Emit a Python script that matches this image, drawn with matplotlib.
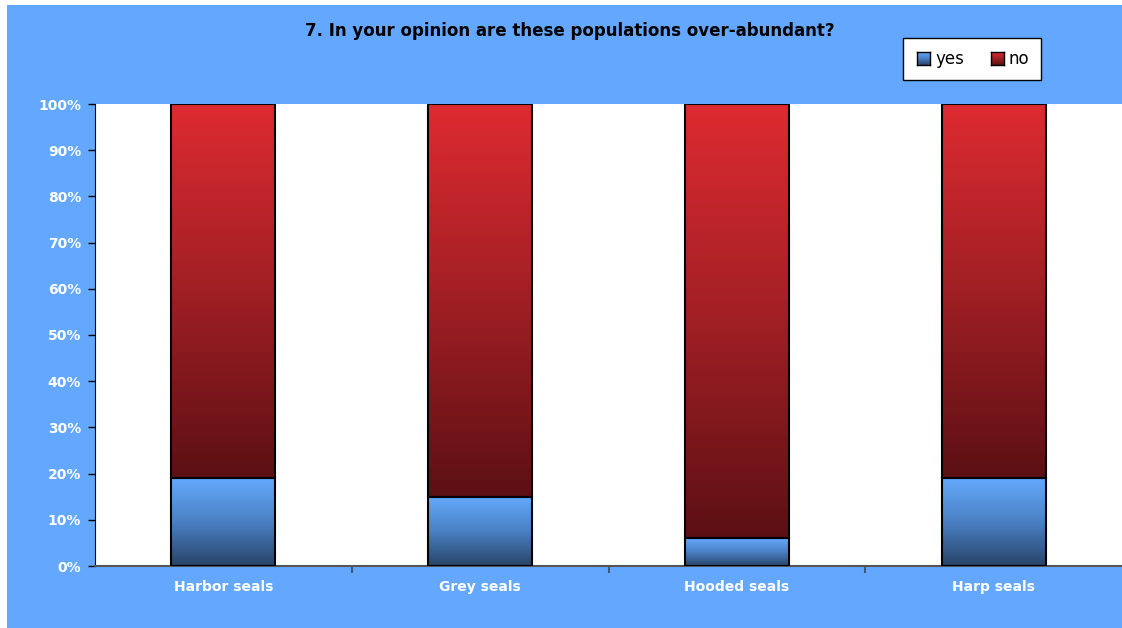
import numpy as np
import matplotlib.pyplot as plt
from matplotlib.patches import Rectangle
from matplotlib.colors import LinearSegmentedColormap

categories = ["Harbor seals", "Grey seals", "Hooded seals", "Harp seals"]
yes_pct = [19, 15, 6, 19]
no_pct = [81, 85, 94, 81]
title = "7. In your opinion are these populations over-abundant?"

W, H = 1122, 628
bg = "#63a8fe"
fig = plt.figure(figsize=(W / 100, H / 100), dpi=100, facecolor="white")
fig.patches.append(Rectangle((7 / W, 0), (W - 7) / W, (H - 5) / H,
                             transform=fig.transFigure, facecolor=bg,
                             edgecolor="none", zorder=-10))

ax = fig.add_axes([95 / W, (H - 566) / H, 1027 / W, 462 / H])
ax.set_facecolor("white")

blue_cmap = LinearSegmentedColormap.from_list("b", ["#284468", "#4a80c4", "#64aafc"])
red_cmap = LinearSegmentedColormap.from_list("r", ["#5c1014", "#a01f24", "#de2b31"])
grad = np.linspace(0, 1, 256).reshape(-1, 1)

x = np.arange(len(categories))
width = 0.405
bars_yes = ax.bar(x, yes_pct, width, facecolor="none", edgecolor="black", lw=1.5, zorder=3)
bars_no = ax.bar(x, no_pct, width, bottom=yes_pct, facecolor="none",
                 edgecolor="black", lw=1.5, zorder=3)

for bars, cmap in ((bars_yes, blue_cmap), (bars_no, red_cmap)):
    for b in bars:
        x0, y0 = b.get_x(), b.get_y()
        ax.imshow(grad, cmap=cmap, aspect="auto", origin="lower", zorder=2,
                  extent=[x0, x0 + b.get_width(), y0, y0 + b.get_height()])

ax.set_xlim(-0.5, len(categories) - 0.5)
ax.set_ylim(0, 100)
ax.set_yticks(np.arange(0, 101, 10))
ax.set_yticklabels(["%d%%" % v for v in range(0, 101, 10)])
ax.set_xticks(x)
ax.set_xticklabels(categories)
ax.set_xticks(np.arange(0.5, len(categories) - 1, 1), minor=True)
ax.tick_params(axis="x", which="major", length=0, pad=10)
ax.tick_params(axis="x", which="minor", length=5, color="#3a5a80", width=1.5)
ax.tick_params(axis="y", length=5, width=1, pad=5)
for lab in ax.get_xticklabels() + ax.get_yticklabels():
    lab.set_color("white")
    lab.set_fontweight("bold")
    lab.set_fontsize(10)
    lab.set_family("DejaVu Sans")

for s in ("top", "right"):
    ax.spines[s].set_visible(False)
ax.spines["left"].set_color("black")
ax.spines["bottom"].set_color("#555555")
ax.spines["bottom"].set_linewidth(1.5)

fig.text(570 / W, 1 - 31 / H, title, ha="center", va="center",
         fontsize=12, fontweight="bold", family="DejaVu Sans")

# legend
lx0, ly0, lw, lh = 903, 38, 138, 42
fig.patches.append(Rectangle((lx0 / W, 1 - (ly0 + lh) / H), lw / W, lh / H,
                             transform=fig.transFigure, facecolor="white",
                             edgecolor="black", lw=1, zorder=5))
for (sx, lab, cmap) in ((917, "yes", blue_cmap), (991, "no", red_cmap)):
    lax = fig.add_axes([sx / W, 1 - 65 / H, 13 / W, 13 / H], zorder=6)
    lax.imshow(grad, cmap=cmap, aspect="auto", origin="lower")
    lax.set_xticks([])
    lax.set_yticks([])
    for sp in lax.spines.values():
        sp.set_color("black")
        sp.set_linewidth(1)
    fig.text((sx + 18) / W, 1 - 59 / H, lab, ha="left", va="center",
             fontsize=12, family="DejaVu Sans", zorder=7)

fig.savefig("out.png", dpi=100, facecolor="white")
